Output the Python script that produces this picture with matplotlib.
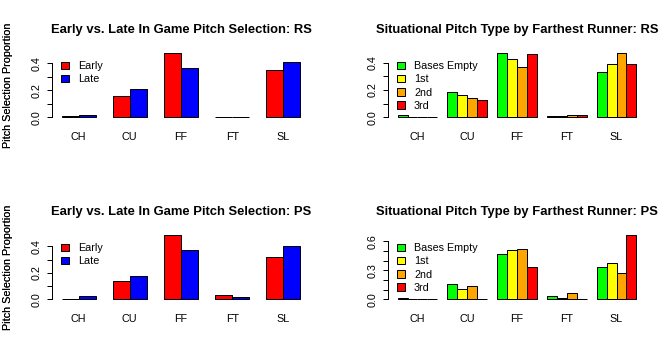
import matplotlib
matplotlib.use("Agg")
import matplotlib.pyplot as plt
from matplotlib.patches import Patch
import numpy as np

plt.rcParams['font.family'] = ['Liberation Sans', 'DejaVu Sans']

pitches = ["CH", "CU", "FF", "FT", "SL"]

rs_early = [0.007, 0.156, 0.480, 0.005, 0.348]
rs_late = [0.015, 0.207, 0.363, 0.004, 0.407]
rs_empty = [0.015, 0.182, 0.473, 0.007, 0.335]
rs_first = [0.0, 0.167, 0.429, 0.007, 0.393]
rs_second = [0.0, 0.145, 0.371, 0.015, 0.473]
rs_third = [0.0, 0.124, 0.465, 0.015, 0.393]

ps_early = [0.0, 0.138, 0.489, 0.031, 0.321]
ps_late = [0.023, 0.176, 0.375, 0.015, 0.400]
ps_empty = [0.010, 0.156, 0.468, 0.031, 0.333]
ps_first = [0.0, 0.104, 0.510, 0.010, 0.375]
ps_second = [0.0, 0.135, 0.520, 0.062, 0.271]
ps_third = [0.0, 0.0, 0.333, 0.0, 0.667]

inning_labels = ["Early", "Late"]
inning_colors = ["#FF0000", "#0000FF"]
runner_labels = ["Bases Empty", "1st", "2nd", "3rd"]
runner_colors = ["#00FF00", "#FFFF00", "#FFA500", "#FF0000"]

ytick_vals_04 = [0.0, 0.1, 0.2, 0.3, 0.4]
ytick_text_04 = ["0.0", "", "0.2", "", "0.4"]
ytick_vals_06 = [0.0, 0.1, 0.2, 0.3, 0.4, 0.5, 0.6]
ytick_text_06 = ["0.0", "", "", "0.3", "", "", "0.6"]

titles = ["Early vs. Late In Game Pitch Selection: RS",
          "Situational Pitch Type by Farthest Runner: RS",
          "Early vs. Late In Game Pitch Selection: PS",
          "Situational Pitch Type by Farthest Runner: PS"]

W, H = 672, 364
DPI = 72
FS = 10.8
TFS = 13
fig = plt.figure(figsize=(W / DPI, H / DPI), dpi=DPI)
fig.patch.set_facecolor("white")


def px_axes(x0, y0, x1, y1):
    return fig.add_axes([x0 / W, 1 - y1 / H, (x1 - x0) / W, (y1 - y0) / H])


def draw_panel(x0, y0, series, labels, colors, yvals, ytext, title):
    ax = px_axes(x0, y0, x0 + 258, y0 + 70)
    n = len(series)
    ngroups = len(pitches)
    for gi in range(ngroups):
        start = 1 + gi * (n + 1)
        for j, s in enumerate(series):
            ax.bar(start + j, s[gi], width=1, align='edge', color=colors[j],
                   edgecolor='black', linewidth=1)
    total = ngroups * (n + 1)
    lo, hi = 1, total
    ax.set_xlim(lo - 0.04 * (hi - lo), hi + 0.04 * (hi - lo))
    m = max(max(s) for s in series)
    ax.set_ylim(-0.04 * m, 1.04 * m)
    centers = [1 + gi * (n + 1) + n / 2 for gi in range(ngroups)]
    ax.set_xticks(centers)
    ax.set_xticklabels(pitches, fontsize=FS)
    ax.tick_params(axis='x', length=0, pad=12.5)
    ax.set_yticks(yvals)
    ax.set_yticklabels(ytext, fontsize=FS, rotation=90, va='center')
    ax.tick_params(axis='y', length=5, width=1, pad=5)
    for sp in ['top', 'right', 'bottom']:
        ax.spines[sp].set_visible(False)
    ax.spines['left'].set_bounds(yvals[0], yvals[-1])
    ax.spines['left'].set_linewidth(1)
    handles = [Patch(facecolor=c, edgecolor='black', linewidth=1) for c in colors]
    ax.legend(handles, labels, loc='upper left', bbox_to_anchor=(0.035, 0.84),
              frameon=False, fontsize=FS, handlelength=0.72, handleheight=0.7,
              handletextpad=0.85, labelspacing=0.3, borderpad=0, borderaxespad=0)
    fig.text((x0 + 129) / W, 1 - (y0 - 20.5) / H, title, ha='center', va='center',
             fontsize=TFS, fontweight='bold')
    fig.text(8.5 / W, 1 - (y0 + 35) / H, "Pitch Selection Proportion",
             rotation=90, ha='center', va='center', fontsize=FS)
    return ax


draw_panel(52, 50, [rs_early, rs_late], inning_labels, inning_colors,
           ytick_vals_04, ytick_text_04, titles[0])
draw_panel(388, 50, [rs_empty, rs_first, rs_second, rs_third], runner_labels,
           runner_colors, ytick_vals_04, ytick_text_04, titles[1])
draw_panel(52, 232, [ps_early, ps_late], inning_labels, inning_colors,
           ytick_vals_04, ytick_text_04, titles[2])
draw_panel(388, 232, [ps_empty, ps_first, ps_second, ps_third], runner_labels,
           runner_colors, ytick_vals_06, ytick_text_06, titles[3])

fig.savefig("out.png", dpi=DPI, facecolor="white")
